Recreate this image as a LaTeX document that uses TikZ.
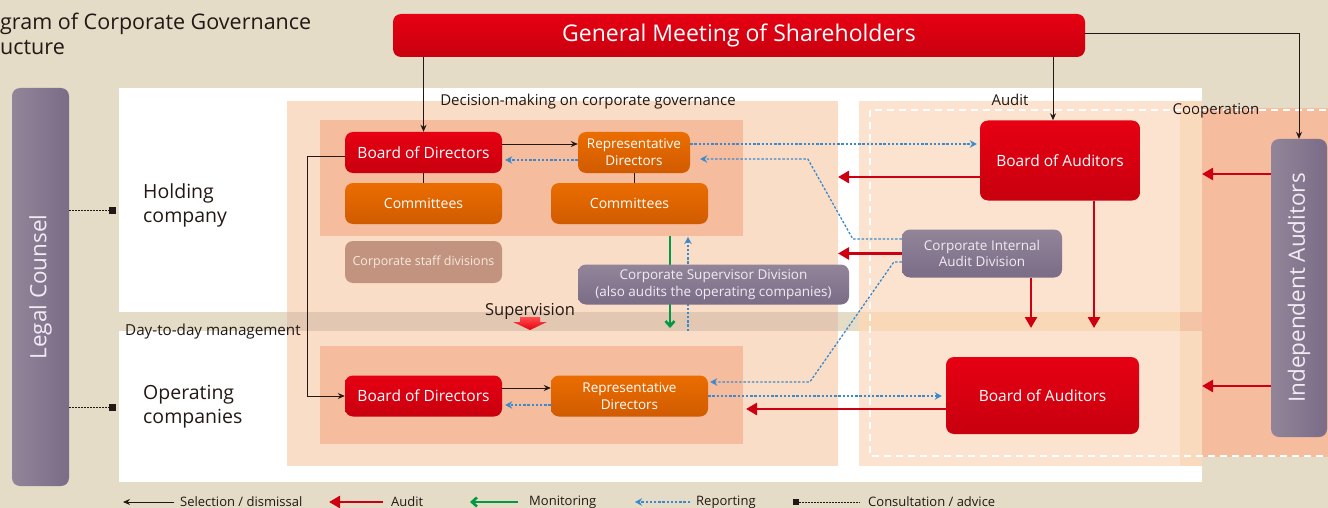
\documentclass[tikz,border=0pt]{standalone}
\usepackage{fontspec}
\setmainfont{Open Sans}
\usetikzlibrary{arrows.meta, positioning}

\definecolor{paper}{HTML}{E4DCC6}
\definecolor{ink}{HTML}{231815}
\definecolor{colPeach}{HTML}{FADDC6}
\definecolor{colBand}{HTML}{E2C8B2}
\definecolor{audPeach}{HTML}{FBE3CF}
\definecolor{audBand}{HTML}{F9D8B8}
\definecolor{stripPeach}{HTML}{FADABD}
\definecolor{stripBand}{HTML}{F4C4A6}
\definecolor{salmon}{HTML}{F5BC9E}
\definecolor{redTop}{HTML}{E60012}
\definecolor{redBot}{HTML}{C8000F}
\definecolor{orgTop}{HTML}{EB6D00}
\definecolor{orgBot}{HTML}{D05B00}
\definecolor{purTop}{HTML}{928599}
\definecolor{purBot}{HTML}{7B6C87}
\definecolor{purText}{HTML}{F0EBF4}
\definecolor{staffFill}{HTML}{C2937E}
\definecolor{staffText}{HTML}{F6E9E0}
\definecolor{audRed}{HTML}{CC0011}
\definecolor{monGreen}{HTML}{009944}
\definecolor{repBlue}{HTML}{3A8ACD}

\begin{document}
\begin{tikzpicture}[x=1pt, y=-1pt,
    box/.style={rounded corners=8pt, minimum height=41pt, inner sep=2pt, align=center, text=white},
    redbox/.style={box, top color=redTop, bottom color=redBot, font=\fontsize{15.5}{18}\selectfont},
    orangebox/.style={box, top color=orgTop, bottom color=orgBot, font=\fontsize{14}{17}\selectfont},
    purplebox/.style={box, top color=purTop, bottom color=purBot, text=purText, font=\fontsize{13.5}{16.5}\selectfont},
    tag/.style={text=ink, inner sep=0pt, font=\fontsize{15}{18}\selectfont},
    company/.style={text=ink, inner sep=0pt, align=left, anchor=west, font=\fontsize{19.5}{24}\selectfont},
    legend/.style={text=ink, inner sep=0pt, anchor=west, font=\fontsize{13}{15}\selectfont},
    sel/.style={draw=ink, line width=0.8pt, -{Stealth[length=7pt, width=6pt]}},
    aud/.style={draw=audRed, line width=2.6pt, -{Triangle[length=11pt, width=12pt]}},
    mon/.style={draw=monGreen, line width=2.6pt, -{Straight Barb[length=5pt, width=9pt]}},
    rep/.style={draw=repBlue, line width=1.3pt, dash pattern=on 2.4pt off 1.8pt, -{Stealth[length=7pt, width=7.5pt]}},
    adv/.style={draw=ink, line width=0.8pt, dash pattern=on 1.5pt off 1.5pt},
    dot/.style={fill=ink, inner sep=0pt, minimum size=7pt}]

  \useasboundingbox (0,0) rectangle (1328,508);

  % panels
  \fill[paper] (0,0) rectangle (1328,508);
  \fill[white] (119,88) rectangle (1202,312);
  \fill[white] (119,331) rectangle (1202,482);
  \fill[colPeach] (287,101) rectangle (838,466);
  \fill[colBand] (287,312) rectangle (838,331);
  \fill[audPeach] (859,101) rectangle (1180,466);
  \fill[audBand] (859,312) rectangle (1180,331);
  \fill[stripPeach] (1180,101) rectangle (1202,466);
  \fill[stripBand] (1180,312) rectangle (1202,331);
  \fill[salmon] (1202,108) rectangle (1328,457);
  \fill[salmon] (320,120) rectangle (743,236);
  \fill[salmon] (320,346) rectangle (743,444);
  \draw[white, line width=2.5pt, dash pattern=on 7pt off 5pt] (870,110) rectangle (1340,456);

  \node[text=ink, inner sep=0pt, align=left, anchor=north west, font=\fontsize{21.5}{25}\selectfont] (title) at (0,13) {gram of Corporate Governance\\ucture};

  % lines running behind the supervisor division
  \coordinate (monTop) at (670,236);
  \coordinate (monBot) at (670,328);
  \coordinate (repBot) at (688,331);
  \coordinate (repTop) at (688,237);
  \draw[mon] (monTop) -- (monBot);
  \draw[rep] (repBot) -- (repTop);

  % boxes
  \node[redbox, minimum width=692pt, minimum height=43pt, font=\fontsize{23}{26}\selectfont] (gm) at (739,35.5) {General Meeting of Shareholders};
  \node[redbox, minimum width=157pt] (bodH) at (423.5,152.5) {Board of Directors};
  \node[orangebox, minimum width=157pt] (comL) at (423.5,203.5) {Committees};
  \node[orangebox, minimum width=112pt, font=\fontsize{13.5}{17}\selectfont] (repH) at (634,152.5) {Representative\\Directors};
  \node[orangebox, minimum width=157pt] (comR) at (629.5,203.5) {Committees};
  \node[box, fill=staffFill, text=staffText, minimum width=157pt, minimum height=42pt, font=\fontsize{12.5}{15}\selectfont] (staff) at (423.5,262) {Corporate staff divisions};
  \node[purplebox, minimum width=271pt, minimum height=40pt] (csd) at (713.5,284.5) {Corporate Supervisor Division\\(also audits the operating companies)};
  \node[purplebox, minimum width=160pt, minimum height=48pt, font=\fontsize{13.5}{16}\selectfont] (ciad) at (982,253.5) {Corporate Internal\\Audit Division};
  \node[redbox, minimum width=160pt, minimum height=80pt] (boaH) at (1060,160.5) {Board of Auditors};
  \node[box, left color=purTop, right color=purBot, text=purText, minimum width=56pt, minimum height=298pt] (indep) at (1299,288) {};
  \node[rotate=90, text=purText, font=\fontsize{22.5}{24}\selectfont] at (indep) {Independent Auditors};
  \node[box, left color=purTop, right color=purBot, minimum width=57pt, minimum height=398pt] (legal) at (40.5,287) {};
  \node[rotate=90, text=purText, font=\fontsize{22.5}{24}\selectfont] at (legal) {Legal Counsel};
  \node[redbox, minimum width=157pt] (bodO) at (423.5,396) {Board of Directors};
  \node[orangebox, minimum width=157pt, font=\fontsize{13.5}{17}\selectfont] (repO) at (629.5,396) {Representative\\Directors};
  \node[redbox, minimum width=193pt, minimum height=77pt] (boaO) at (1042.5,395.5) {Board of Auditors};

  % labels
  \node[tag] (decide) at (588,102) {Decision-making on corporate governance};
  \node[tag] (auditTag) at (1010,100) {Audit};
  \node[tag] (coop) at (1216,111) {Cooperation};
  \node[tag, anchor=west, font=\fontsize{15.2}{17}\selectfont] (daily) at (125,332) {Day-to-day management};
  \node[company] (holding) at (143,205) {Holding\\company};
  \node[company] (operating) at (143,407) {Operating\\companies};
  \shade[top color=red!70!white, bottom color=redTop] (520,317) -- (540,317) -- (540,322) -- (547,322) -- (530,330) -- (513,322) -- (520,322) -- cycle;
  \node[tag, font=\fontsize{16.5}{18}\selectfont] (superv) at (530,311) {Supervision};

  % selection / dismissal
  \draw[sel] (gm.south -| bodH.north) -- (bodH.north);
  \draw[sel] ([xshift=-7pt]gm.south -| boaH.north) -- ([xshift=-7pt]boaH.north);
  \draw[sel] ([yshift=2pt]gm.east) -| (indep.north);
  \draw[sel] ([yshift=8.5pt]bodH.east) -- ([yshift=8.5pt]repH.west);
  \draw[sel] ([yshift=-3.5pt]bodH.west) -- ++(-37,0) |- (bodO.west);
  \draw[sel] ([yshift=8pt]bodO.east) -- ([yshift=8pt]repO.west);
  \draw[ink, line width=0.8pt] (bodH.south) -- (comL.north);
  \draw[ink, line width=0.8pt] (repH.south) -- (repH.south |- comR.north);

  % reporting
  \draw[rep, shorten >=3pt] ([yshift=-7.5pt]repH.west) -- ([yshift=-7.5pt]bodH.east);
  \draw[rep, shorten >=3pt] ([yshift=8.5pt]repH.east) -- ([yshift=8.5pt]repH.east -| boaH.west);
  \draw[rep, shorten >=10pt] ([yshift=14.5pt]ciad.west) -- ++(-49,0) -- ++(-45,-80) -- ([yshift=-6.5pt]repH.east);
  \draw[rep, shorten >=2pt] ([yshift=-8.5pt]ciad.west) -- ++(-8,0) -- ++(-84,120) -- ([yshift=14pt]repO.east);
  \draw[rep, shorten >=4pt] (repO.east) -- (repO.east -| boaO.west);
  \draw[rep, shorten >=3pt] ([yshift=-9pt]repO.west) -- ([yshift=-9pt]bodO.east);

  % audit
  \coordinate (colEdge) at (838,0);
  \coordinate (coopEdge) at (1202,0);
  \coordinate (opEdge) at (746,0);
  \coordinate (bandLine) at (0,328);
  \draw[aud] ([yshift=-16.5pt]boaH.west) -- ([yshift=-16.5pt]boaH.west -| colEdge);
  \draw[aud] (ciad.west) -- (ciad.west -| colEdge);
  \draw[aud] ([xshift=34pt]boaH.south) -- ([xshift=34pt]boaH.south |- bandLine);
  \draw[aud] ([xshift=49pt]ciad.south) -- ([xshift=49pt]ciad.south |- bandLine);
  \draw[aud] ([yshift=114pt]indep.west) -- ([yshift=114pt]indep.west -| coopEdge);
  \draw[aud] ([yshift=-98pt]indep.west) -- ([yshift=-98pt]indep.west -| coopEdge);
  \draw[aud] ([yshift=-13.5pt]boaO.west) -- ([yshift=-13.5pt]boaO.west -| opEdge);

  % consultation / advice
  \node[dot] (advH) at (112,210) {};
  \node[dot] (advO) at (112,407) {};
  \draw[adv] (legal.east |- advH) -- (advH);
  \draw[adv] (legal.east |- advO) -- (advO);

  % legend
  \node[legend] (lgSel) at (180,502) {Selection / dismissal};
  \node[legend] (lgAud) at (391,502) {Audit};
  \node[legend] (lgMon) at (529,502) {Monitoring};
  \node[legend] (lgRep) at (696,502) {Reporting};
  \node[legend] (lgAdv) at (868,502) {Consultation / advice};
  \draw[sel] ([xshift=-6pt]lgSel.west) -- ++(-51,0);
  \draw[aud] ([xshift=-8pt]lgAud.west) -- ++(-54,0);
  \draw[mon] ([xshift=-11pt]lgMon.west) -- ++(-48,0);
  \draw[rep] ([xshift=-6pt]lgRep.west) -- ++(-55,0);
  \node[dot, minimum size=6pt] (lgDot) at (796,502) {};
  \draw[adv] (lgDot) -- ([xshift=-8pt]lgAdv.west);
\end{tikzpicture}
\end{document}
